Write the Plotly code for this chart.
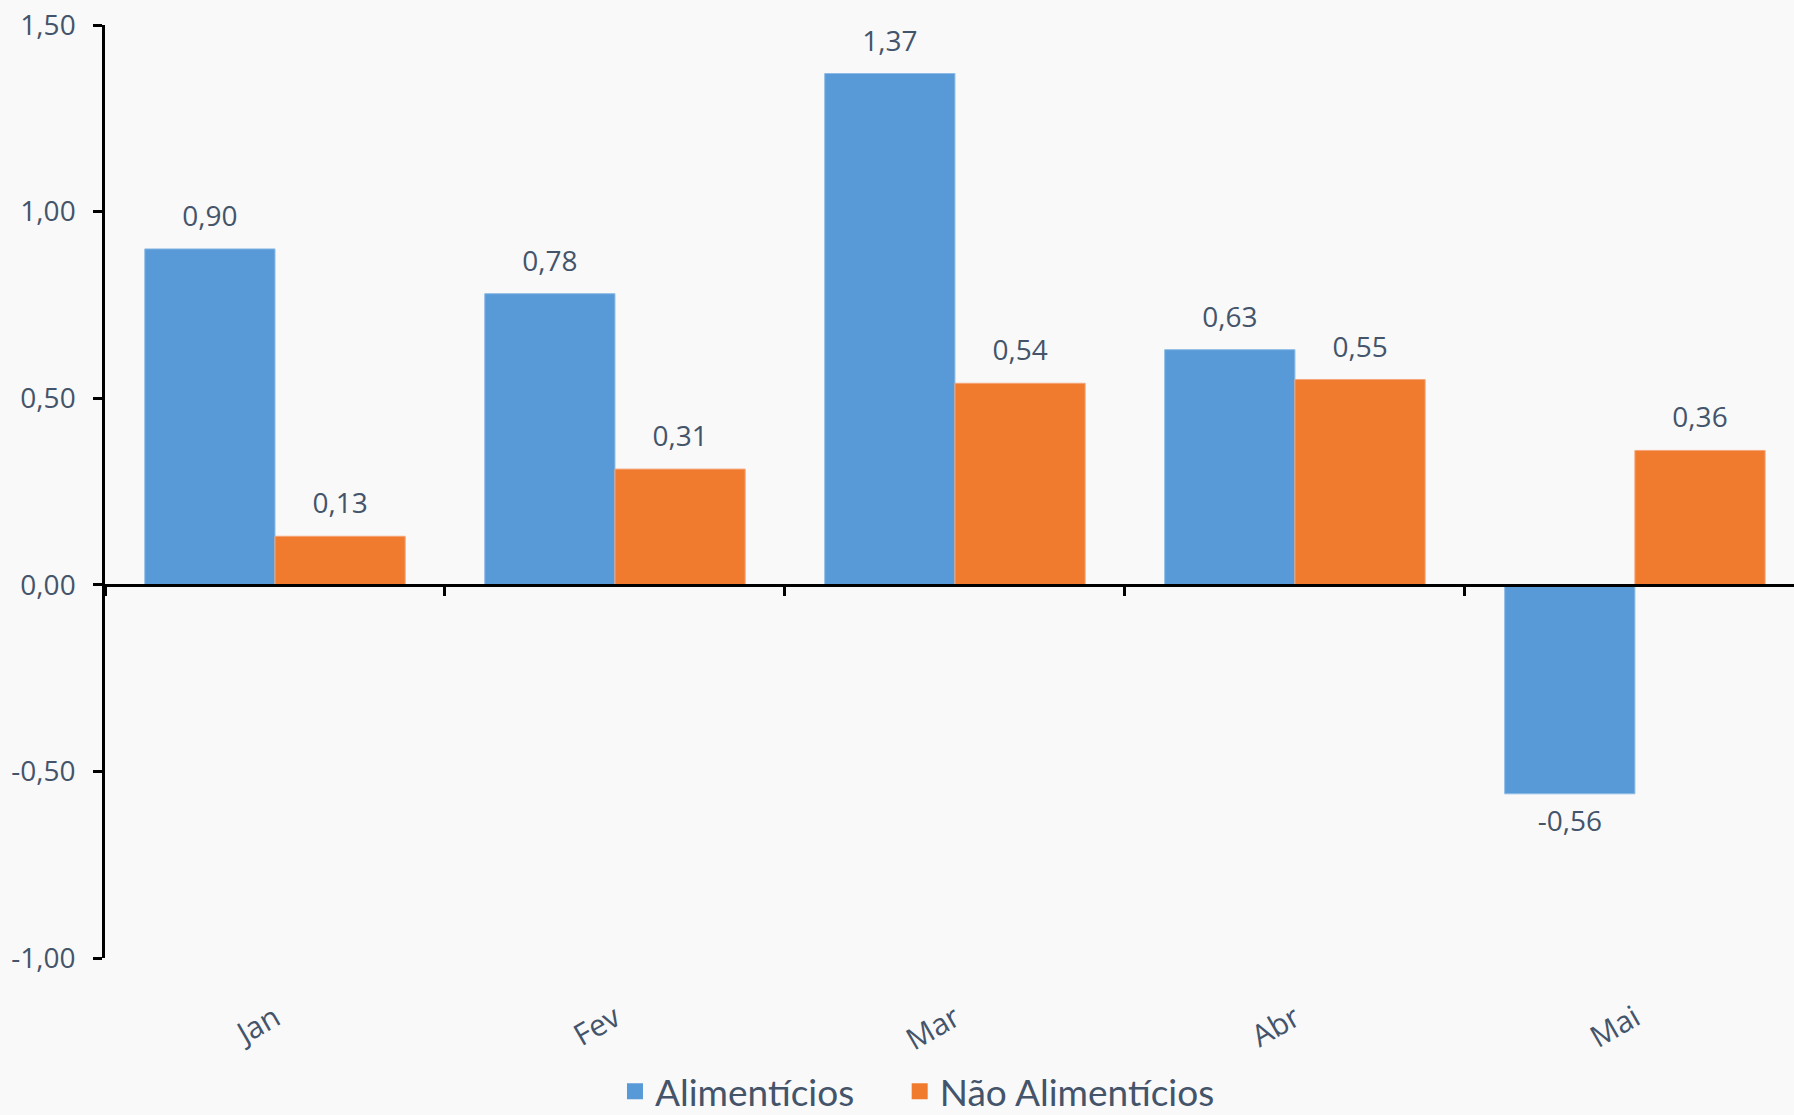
import plotly.graph_objects as go

months = ["Jan", "Fev", "Mar", "Abr", "Mai"]
alimenticios = [0.90, 0.78, 1.37, 0.63, -0.56]
nao_alimenticios = [0.13, 0.31, 0.54, 0.55, 0.36]
series_names = ["Alimentícios", "Não Alimentícios"]
ytick_vals = [-1.0, -0.5, 0.0, 0.5, 1.0, 1.5]
ytick_text = ["-1,00", "-0,50", "0,00", "0,50", "1,00", "1,50"]

TXT = "#44546A"
BLUE = "#5899D7"
ORANGE = "#F07B2E"
BG = "#F9F9F9"
LABEL_FONT = dict(family="Open Sans", size=28, color=TXT)


def fmt(v):
    return f"{v:.2f}".replace(".", ",")


def pos(vals):
    return ["top center" if v >= 0 else "bottom center" for v in vals]


fig = go.Figure()
for vals, name, col, edge in [
    (alimenticios, series_names[0], BLUE, "#8DBBE6"),
    (nao_alimenticios, series_names[1], ORANGE, "#F5A57A"),
]:
    fig.add_trace(go.Bar(
        x=months, y=vals, name=name,
        marker=dict(color=col, line=dict(color=edge, width=1)),
        showlegend=False, hoverinfo="x+y",
    ))

# data labels (grouped scatter text aligned with the bars)
for vals, name in [(alimenticios, series_names[0]), (nao_alimenticios, series_names[1])]:
    fig.add_trace(go.Scatter(
        x=months, y=vals, mode="markers+text", orientation="v",
        text=[fmt(v) for v in vals], textposition=pos(vals),
        textfont=LABEL_FONT, marker=dict(size=24, opacity=0),
        showlegend=False, hoverinfo="skip", cliponaxis=False,
    ))

# helper trace carrying the zero-line category axis
fig.add_trace(go.Scatter(
    x=months, y=alimenticios, xaxis="x2", mode="markers",
    marker=dict(size=1, opacity=0), showlegend=False, hoverinfo="skip",
))

# legend entries with square swatches (one legend each for spacing)
for name, col, leg in [(series_names[0], BLUE, "legend"), (series_names[1], ORANGE, "legend2")]:
    fig.add_trace(go.Scatter(
        x=[None], y=[None], xaxis="x2", mode="markers", name=name,
        marker=dict(symbol="square", size=21, color=col),
        showlegend=True, legend=leg,
    ))

legend_common = dict(
    orientation="h", xref="container", yref="container",
    xanchor="left", y=0.021, yanchor="middle",
    font=dict(family="Lato", size=37, color=TXT),
    bgcolor="rgba(0,0,0,0)",
)

fig.update_layout(
    width=1794, height=1115,
    paper_bgcolor=BG, plot_bgcolor=BG,
    margin=dict(l=105, r=0, t=25, b=157, autoexpand=False),
    barmode="group", bargap=0.234, bargroupgap=0,
    scattermode="group", scattergap=0.234,
    font=dict(family="Open Sans", color=TXT, size=28),
    showlegend=True,
    legend=dict(x=0.3428, **legend_common),
    legend2=dict(x=0.5015, **legend_common),
    xaxis=dict(
        type="category", range=[-0.5, 4.468], automargin=False,
        showline=False, showgrid=False, zeroline=False,
        ticks="outside", ticklen=30, tickcolor="rgba(0,0,0,0)",
        tickangle=-30, tickfont=dict(family="Open Sans", size=30, color=TXT),
    ),
    xaxis2=dict(
        type="category", overlaying="x", matches="x", anchor="free", position=0.4,
        showline=True, linecolor="black", linewidth=2.5,
        showgrid=False, zeroline=False, showticklabels=False,
        ticks="outside", tickson="boundaries", ticklen=9, tickwidth=2.5,
        tickcolor="black",
    ),
    yaxis=dict(
        range=[-1.0, 1.5], tickvals=ytick_vals, ticktext=ytick_text,
        automargin=False,
        showline=True, linecolor="black", linewidth=2.5,
        ticks="outside", ticklen=9, tickwidth=2.5, tickcolor="black",
        showgrid=False, zeroline=False, ticklabelstandoff=12,
        tickfont=LABEL_FONT,
    ),
)

fig.write_html(
    "out.html",
    config={"displayModeBar": False},
    post_script="document.body.style.margin='0';document.body.style.overflow='hidden';",
)
